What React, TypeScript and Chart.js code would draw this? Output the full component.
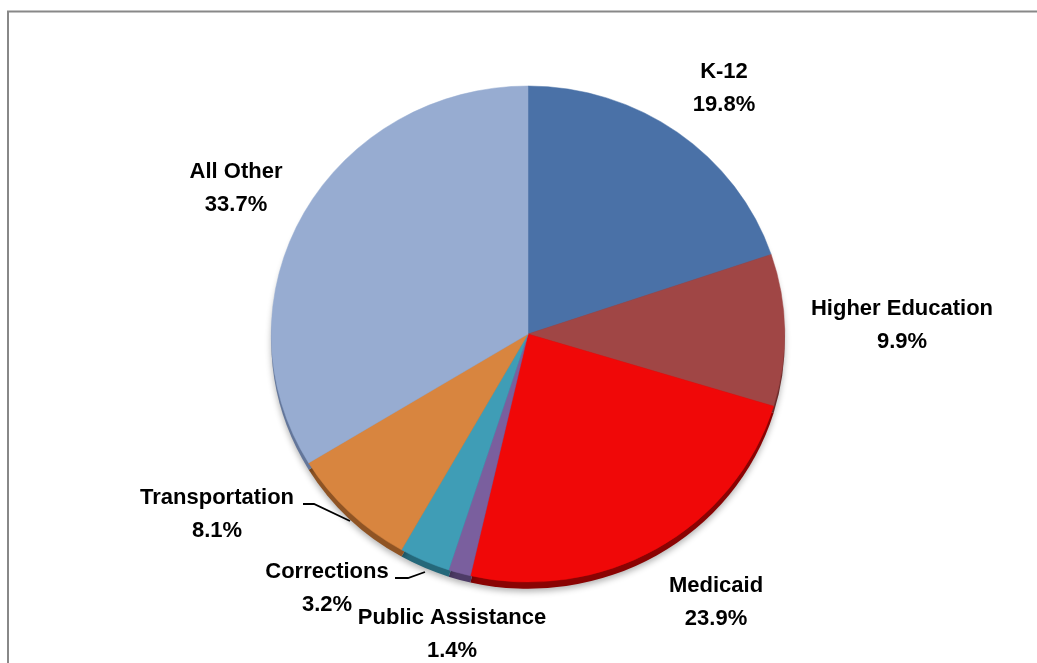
import React, { useEffect, useRef } from "react";
import { Chart, registerables } from "chart.js";

Chart.register(...registerables);

const categories = [
  "K-12",
  "Higher Education",
  "Medicaid",
  "Public Assistance",
  "Corrections",
  "Transportation",
  "All Other",
];
const shares = [19.8, 9.9, 23.9, 1.4, 3.2, 8.1, 33.7];
const sliceColors = [
  "#4a71a7",
  "#a04645",
  "#f00808",
  "#7a5f9e",
  "#3f9db6",
  "#d8853f",
  "#97acd1",
];
const sideColors = [
  "#2f4b72",
  "#6a2b2a",
  "#8a0303",
  "#4d3b66",
  "#25687a",
  "#8f5424",
  "#63769a",
];

// label anchor positions (canvas px) for the first line of each label
const labelPos: [number, number][] = [
  [724, 72],
  [902, 309],
  [716, 586],
  [452, 618],
  [327, 572],
  [217, 498],
  [236, 172],
];
// leader lines (only for the labels that have one)
const leaders: Record<number, [number, number][]> = {
  4: [
    [395, 578],
    [408, 578],
    [425, 572],
  ],
  5: [
    [303, 504],
    [314, 504],
    [350, 521],
  ],
};

const V_SCALE = 0.966;
const FONT = 'bold 22px "Liberation Sans", Arial, sans-serif';

const piePlugin = {
  id: "pie3d",
  beforeDatasetsDraw(chart: any) {
    const ctx = chart.ctx;
    const meta = chart.getDatasetMeta(0);
    const first = meta.data[0];
    if (!first) return;
    const cx = first.x;
    const cy = first.y;
    ctx.save();
    ctx.translate(cx, cy);
    ctx.scale(1, V_SCALE);
    ctx.translate(-cx, -cy);
    // soft shadow + dark side edge
    ctx.save();
    ctx.shadowColor = "rgba(0,0,0,0.3)";
    ctx.shadowBlur = 6;
    ctx.shadowOffsetY = 3;
    meta.data.forEach((arc: any, i: number) => {
      const p = arc.getProps(["x", "y", "startAngle", "endAngle", "outerRadius"], true);
      ctx.beginPath();
      ctx.moveTo(p.x, p.y + 7);
      ctx.arc(p.x, p.y + 7, p.outerRadius, p.startAngle, p.endAngle);
      ctx.closePath();
      ctx.fillStyle = sideColors[i];
      ctx.fill();
    });
    ctx.restore();
  },
  afterDatasetsDraw(chart: any) {
    const ctx = chart.ctx;
    ctx.restore();
    ctx.save();
    // frame
    ctx.strokeStyle = "#888888";
    ctx.lineWidth = 2;
    ctx.beginPath();
    ctx.moveTo(8, 663);
    ctx.lineTo(8, 11.5);
    ctx.lineTo(1037, 11.5);
    ctx.stroke();
    // leader lines
    ctx.strokeStyle = "#000";
    ctx.lineWidth = 1.8;
    Object.keys(leaders).forEach((k) => {
      const pts = leaders[Number(k)];
      ctx.beginPath();
      pts.forEach(([x, y], j) => (j === 0 ? ctx.moveTo(x, y) : ctx.lineTo(x, y)));
      ctx.stroke();
    });
    // labels
    ctx.fillStyle = "#000";
    ctx.font = FONT;
    ctx.textAlign = "center";
    ctx.textBaseline = "middle";
    categories.forEach((name, i) => {
      const [x, y] = labelPos[i];
      ctx.fillText(name, x, y);
      ctx.fillText(shares[i].toFixed(1) + "%", x, y + 33);
    });
    ctx.restore();
  },
};

export default function App() {
  const ref = useRef<HTMLCanvasElement | null>(null);
  useEffect(() => {
    if (!ref.current) return;
    const chart = new Chart(ref.current, {
      type: "pie",
      data: {
        labels: categories,
        datasets: [
          {
            data: shares,
            backgroundColor: sliceColors,
            borderColor: sliceColors,
            borderWidth: 0.5,
            clip: false as any,
          },
        ],
      },
      options: {
        animation: false,
        responsive: false,
        devicePixelRatio: 1,
        layout: { padding: { left: 271, right: 252, top: 77, bottom: 72 } },
        plugins: {
          legend: { display: false },
          tooltip: { enabled: false },
        },
      },
      plugins: [piePlugin],
    });
    return () => chart.destroy();
  }, []);
  return (
    <div style={{ position: "absolute", left: 0, top: 0, width: 1037, height: 663, background: "#fff" }}>
      <canvas ref={ref} width={1037} height={663} style={{ display: "block" }} />
    </div>
  );
}
